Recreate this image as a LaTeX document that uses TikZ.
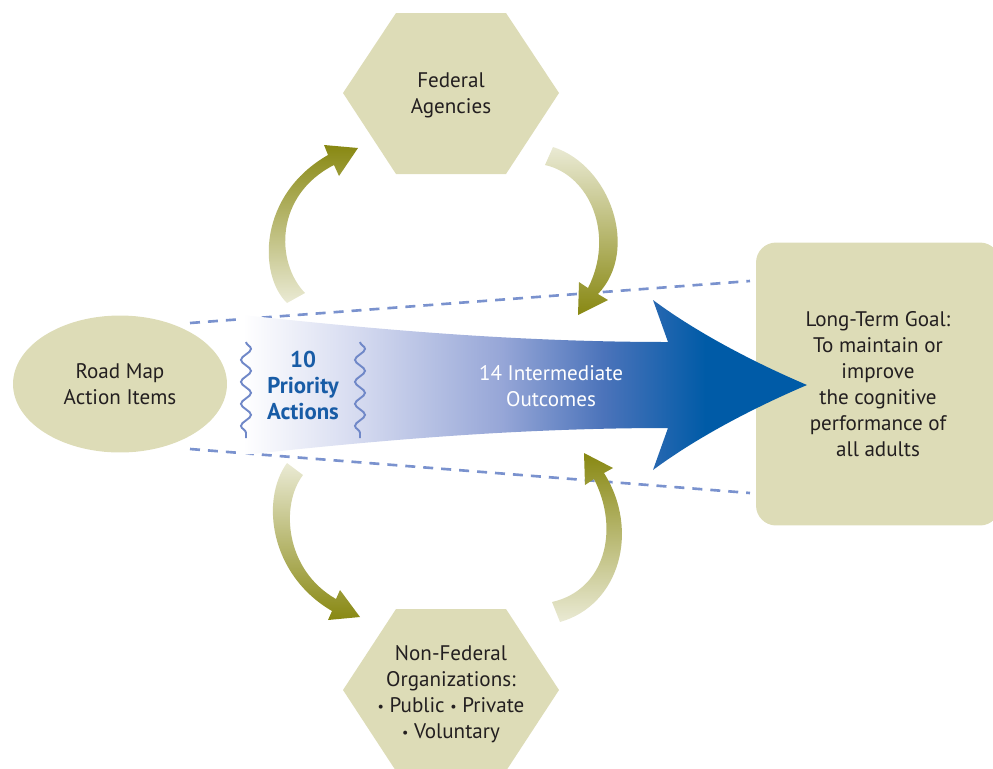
\documentclass[tikz,border=0pt]{standalone}
\usepackage{fontspec}
\setmainfont{PT Sans}
\usepackage{tikz}
\usetikzlibrary{shapes.geometric}
\usetikzlibrary{decorations.pathmorphing}
\definecolor{khaki}{RGB}{221,220,183}
\definecolor{inkgray}{RGB}{35,31,32}
\definecolor{deepblue}{RGB}{0,91,167}
\definecolor{prioblue}{RGB}{24,92,166}
\definecolor{wavyblue}{RGB}{112,136,200}
\definecolor{dashblue}{RGB}{122,146,206}
\definecolor{oliv}{RGB}{136,136,18}
\definecolor{paleoliv}{RGB}{234,234,212}
\definecolor{fadeA}{RGB}{214,219,240}
\definecolor{fadeB}{RGB}{150,166,215}
\definecolor{fadeC}{RGB}{75,115,186}
\pgfdeclarehorizontalshading{bluefade}{100bp}{color(0bp)=(white); color(25bp)=(white); color(35bp)=(fadeA); color(48bp)=(fadeB); color(57bp)=(fadeC); color(66bp)=(deepblue); color(100bp)=(deepblue)}
\newcommand{\smallbul}{{\footnotesize\raisebox{0.15ex}{\textbullet}}}
\tikzstyle{txt}=[text=inkgray, align=center, font=\fontsize{12}{14.8}\selectfont]
\tikzstyle{roadmap}=[txt, ellipse, fill=khaki, minimum width=4.28cm, minimum height=2.74cm]
\tikzstyle{goalbox}=[txt, fill=khaki, rounded corners=0.4cm, minimum width=4.88cm, minimum height=5.66cm]
\tikzstyle{hexfill}=[fill=khaki]
\tikzstyle{guide}=[dashblue, line width=1.5pt, dash pattern=on 0.2cm off 0.16cm]
\tikzstyle{wavy}=[wavyblue, line width=1.1pt, decorate, decoration={snake, amplitude=0.1cm, segment length=0.44cm}]

\begin{document}
\begin{tikzpicture}[x=0.02cm,y=-0.02cm]
\clip (0,0) rectangle (993,768);
% shapes
\node [roadmap] (road) at (120,384) {Road Map\\Action Items};
\fill[hexfill] (343,93) -- (396,13) -- (506,13) -- (559,93) -- (506,174) -- (396,174) -- cycle;
\node [txt] (fed) at (451,95) {Federal\\Agencies};
\fill[hexfill] (343,690) -- (396,609) -- (506,609) -- (559,690) -- (506,771) -- (396,771) -- cycle;
\node [txt] (nonfed) at (451,694) {Non-Federal\\Organizations:\\\smallbul\ Public \smallbul\ Private\\\smallbul\ Voluntary};
\node [goalbox] (goal) at (878,384) {Long-Term Goal:\\To maintain or\\improve\\the cognitive\\performance of\\all adults};
% dashed guides
\coordinate (ut) at (190,323);
\coordinate (vt) at (750,281);
\coordinate (ub) at (190,449);
\coordinate (vb) at (750,493);
\draw[guide] (ut) -- (vt);
\draw[guide] (ub) -- (vb);
% olive arrows
\shade[top color=oliv, bottom color=paleoliv] (287,303) .. controls (258,275) and (258,195) .. (328,155) -- (324,145) -- (358,148) -- (339,176) -- (334,165) .. controls (275,195) and (275,262) .. (305,293) -- cycle;
\shade[top color=paleoliv, bottom color=oliv] (553,147) .. controls (610,165) and (640,250) .. (598,294) -- (608,300) -- (578,315) -- (579,282) -- (588,288) .. controls (615,235) and (590,175) .. (545,165) -- cycle;
\shade[top color=paleoliv, bottom color=oliv] (287,463) .. controls (260,500) and (270,575) .. (332,611) -- (328,620) -- (360,617) -- (340,590) -- (336,599) .. controls (285,570) and (280,505) .. (303,475) -- cycle;
\shade[top color=oliv, bottom color=paleoliv] (560,622) .. controls (620,605) and (640,530) .. (604,473) -- (613,468) -- (584,453) -- (585,485) -- (594,479) .. controls (620,530) and (605,590) .. (552,602) -- cycle;
% big arrow
\shade[shading=bluefade] (243,315) .. controls (380,330) and (520,342) .. (668,342) -- (653,300) .. controls (700,335) and (760,365) .. (807,385) .. controls (760,405) and (700,435) .. (653,470) -- (668,428) .. controls (520,428) and (380,440) .. (243,455) -- cycle;
\draw[wavy] (246,342) -- (246,438);
\draw[wavy] (360,342) -- (360,438);
\node [txt, text=prioblue, font=\fontsize{13}{14.8}\selectfont\bfseries] (prio) at (303,385) {10\\Priority\\Actions};
\node [txt, text=white] (mid) at (551,386) {14 Intermediate\\Outcomes};
\end{tikzpicture}
\end{document}
